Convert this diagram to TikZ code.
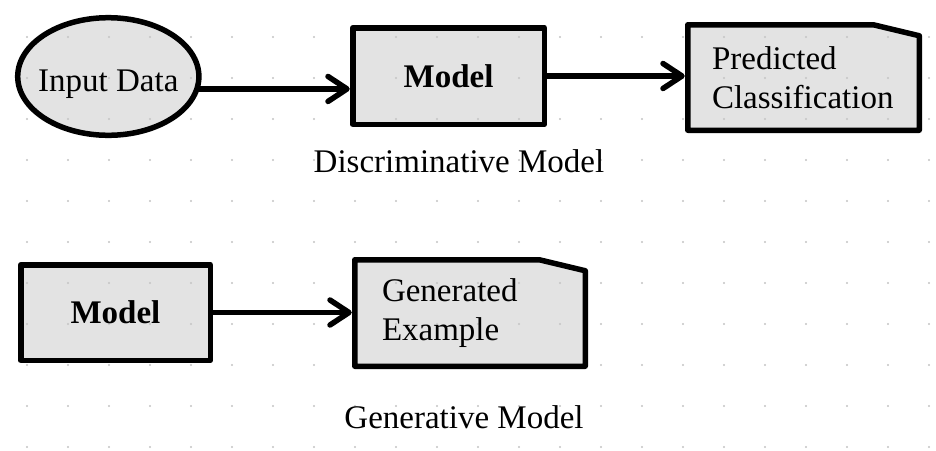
\documentclass[tikz,border=0pt]{standalone}
\usepackage{fontspec}
\setmainfont{Liberation Serif}
\usetikzlibrary{arrows.meta,shapes.geometric}
\pgfdeclarelayer{fills}
\pgfdeclarelayer{dots}
\pgfdeclarelayer{fg}
\pgfsetlayers{fills,dots,main,fg}
\definecolor{boxfill}{RGB}{227,227,227}
\definecolor{griddot}{RGB}{196,196,196}
\tikzset{
  lbl/.style={font=\fontsize{33}{38.5}\selectfont, inner sep=0pt, outer sep=0pt},
  boldlbl/.style={lbl, font=\fontsize{33}{38.5}\selectfont\bfseries},
  border/.style={draw=black, line width=5.5pt, line join=round},
  shade/.style={fill=boxfill},
  conn/.style={draw=black, line width=5.5pt, -{Straight Barb[length=19pt,width=25pt,round]}, shorten >=3pt}
}
\newcommand\boxshape[2]{\path[#2] (#1.south west) rectangle (#1.north east);}
\newcommand\docshape[2]{\path[#2] (#1.south west) -- (#1.north west) -- ([xshift=-46pt]#1.north east) -- ([yshift=-11pt]#1.north east) -- (#1.south east) -- cycle;}
\newcommand\ellshape[2]{\path[#2] (#1.center) ellipse [x radius=90.6pt, y radius=58.8pt];}
\begin{document}
\begin{tikzpicture}[x=1pt,y=-1pt]
\useasboundingbox (0,0) rectangle (936,450);
% text nodes
\begin{pgfonlayer}{fg}
\node[lbl, shape=ellipse, inner xsep=-8pt, minimum width=181.2pt, minimum height=117.6pt, text height=29pt, text depth=0pt] (inp) at (108.3,76.5) {Input Data};
\node[boldlbl, minimum width=191.5pt, minimum height=96.5pt] (m1) at (448.5,76) {Model};
\node[lbl, align=left, text width=183pt, inner xsep=24.25pt, minimum height=105.5pt] (pred) at (803.5,77.5) {Predicted\\Classification};
\node[lbl, anchor=base] (dlab) at (459,172) {Discriminative Model};
\node[boldlbl, minimum width=189.5pt, minimum height=95.5pt] (m2) at (115.5,312.5) {Model};
\node[lbl, align=left, text width=176pt, inner xsep=27.25pt, minimum height=106.5pt] (gen) at (470,313) {Generated\\Example};
\node[lbl, anchor=base] (glab) at (464,428) {Generative Model};
\end{pgfonlayer}
% background and fills
\begin{pgfonlayer}{fills}
\fill[white] (0,0) rectangle (936,450);
\ellshape{inp}{shade}
\boxshape{m1}{shade}
\docshape{pred}{shade}
\boxshape{m2}{shade}
\docshape{gen}{shade}
\end{pgfonlayer}
% dotted grid
\begin{pgfonlayer}{dots}
\foreach \i in {0,...,22}{\foreach \j in {0,...,10}{\fill[griddot] (27+41*\i,37+41*\j) circle[radius=1.1pt];}}
\end{pgfonlayer}
% borders
\ellshape{inp}{border}
\boxshape{m1}{border}
\docshape{pred}{border}
\boxshape{m2}{border}
\docshape{gen}{border}
% connectors
\draw[conn] (inp.-8) -- (inp.-8 -| m1.west);
\draw[conn] (m1.east) -- (m1.east -| pred.west);
\draw[conn] (m2.east) -- (m2.east -| gen.west);
\end{tikzpicture}
\end{document}
